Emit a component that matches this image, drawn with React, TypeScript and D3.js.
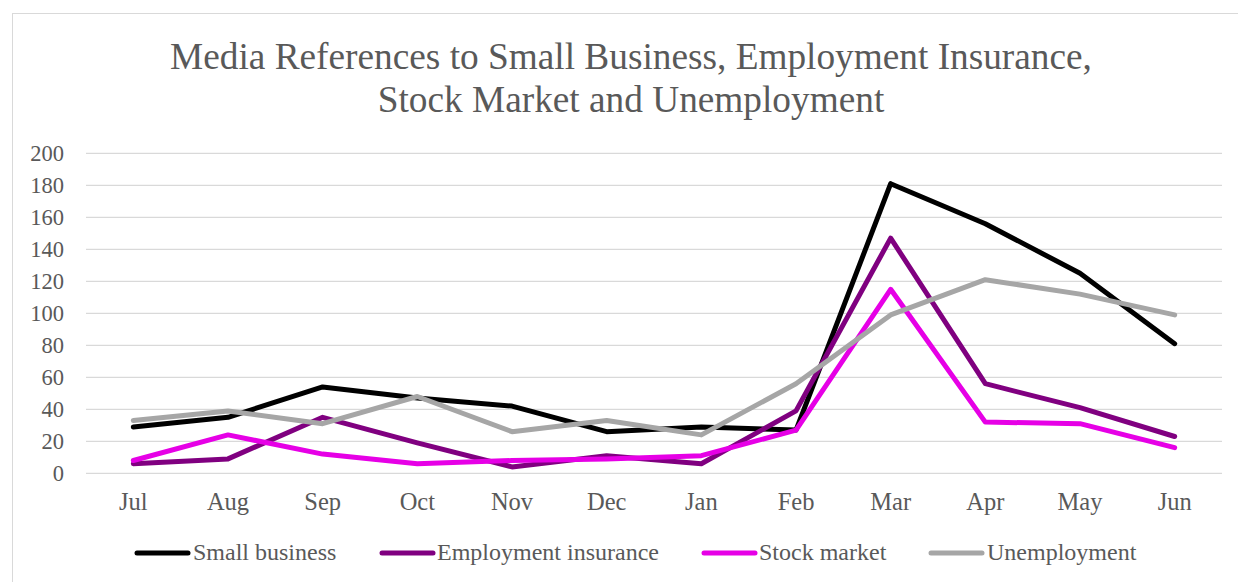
import React from "react";
import * as d3 from "d3";

const months = ["Jul", "Aug", "Sep", "Oct", "Nov", "Dec", "Jan", "Feb", "Mar", "Apr", "May", "Jun"];
const smallBusiness = [29, 35, 54, 47, 42, 26, 29, 27, 181, 156, 125, 81];
const employmentInsurance = [6, 9, 35, 19, 4, 11, 6, 39, 147, 56, 41, 23];
const stockMarket = [8, 24, 12, 6, 8, 9, 11, 27, 115, 32, 31, 16];
const unemployment = [33, 39, 31, 48, 26, 33, 24, 56, 99, 121, 112, 99];
const yTicks = [0, 20, 40, 60, 80, 100, 120, 140, 160, 180, 200];
const seriesNames = ["Small business", "Employment insurance", "Stock market", "Unemployment"];
const seriesColors = ["#000000", "#800080", "#E600E6", "#A6A6A6"];

const W = 1238;
const H = 582;
const FONT = "Liberation Serif";

export default function App() {
  const left = 86, right = 1222, top = 153.3, bottom = 473.3;
  const x = d3.scaleBand<string>().domain(months).range([left, right]);
  const y = d3.scaleLinear().domain([0, 200]).range([bottom, top]);
  const all = [smallBusiness, employmentInsurance, stockMarket, unemployment];
  const line = d3
    .line<number>()
    .x((_, i) => (x(months[i]) as number) + x.bandwidth() / 2)
    .y((d) => y(d));

  const legendItems = [
    { swatch: 135, text: 193 },
    { swatch: 380, text: 437 },
    { swatch: 702, text: 759 },
    { swatch: 929, text: 987 },
  ];

  return (
    <svg width={W} height={H} style={{ position: "absolute", left: 0, top: 0 }}>
      <rect x={0} y={0} width={W} height={H} fill="#fff" />
      <rect x={12.5} y={13.5} width={W - 12} height={H} fill="none" stroke="#D9D9D9" strokeWidth={1} />
      <text x={631} y={69} textAnchor="middle" fontFamily={FONT} fontSize={37.3} fill="#595959">
        Media References to Small Business, Employment Insurance,
      </text>
      <text x={631} y={112} textAnchor="middle" fontFamily={FONT} fontSize={37.3} fill="#595959">
        Stock Market and Unemployment
      </text>
      {yTicks.map((t) => (
        <g key={t}>
          <line x1={left} x2={right} y1={y(t)} y2={y(t)} stroke="#D9D9D9" strokeWidth={1.3} />
          <text x={64} y={y(t) + 7.5} textAnchor="end" fontFamily={FONT} fontSize={22.5} fill="#595959">
            {t}
          </text>
        </g>
      ))}
      {months.map((m) => (
        <text
          key={m}
          x={(x(m) as number) + x.bandwidth() / 2}
          y={510}
          textAnchor="middle"
          fontFamily={FONT}
          fontSize={24.5}
          fill="#595959"
        >
          {m}
        </text>
      ))}
      {all.map((s, i) => (
        <path
          key={i}
          d={line(s) as string}
          fill="none"
          stroke={seriesColors[i]}
          strokeWidth={5}
          strokeLinejoin="round"
          strokeLinecap="round"
        />
      ))}
      {seriesNames.map((n, i) => (
        <g key={n}>
          <line
            x1={legendItems[i].swatch + 2}
            x2={legendItems[i].swatch + 53}
            y1={553}
            y2={553}
            stroke={seriesColors[i]}
            strokeWidth={5}
            strokeLinecap="round"
          />
          <text x={legendItems[i].text} y={560} fontFamily={FONT} fontSize={24} fill="#595959">
            {n}
          </text>
        </g>
      ))}
    </svg>
  );
}
